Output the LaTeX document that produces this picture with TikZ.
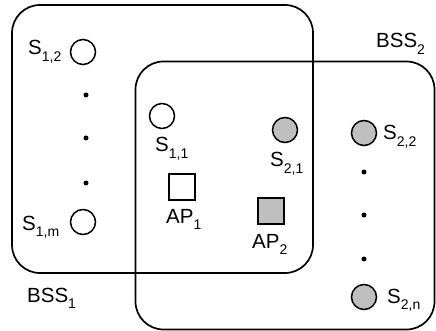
\documentclass[tikz,border=0pt]{standalone}
\usepackage{fontspec}
\setmainfont{Liberation Sans}
\newcommand{\mysub}[1]{\raisebox{-0.33em}{\fontsize{14}{14}\selectfont #1}}
\begin{document}
\begin{tikzpicture}[x=1pt,y=-1pt,
  bssbox/.style={draw,line width=1.7pt,rounded corners=28pt,inner sep=0pt},
  sta/.style={circle,draw,line width=1.5pt,minimum size=25pt,inner sep=0pt},
  apbox/.style={rectangle,draw,line width=1.5pt,minimum size=26pt,inner sep=0pt},
  lbl/.style={anchor=base west,inner sep=0pt,font=\fontsize{20.5}{20.5}\selectfont},
  dotn/.style={circle,fill,minimum size=5pt,inner sep=0pt},
  grayfill/.style={fill=black!25}]
\useasboundingbox (0,0) rectangle (436,331);
% BSS boxes
\node[bssbox,minimum width=301pt,minimum height=268pt] (bss1) at (162.5,139) {};
\node[bssbox,minimum width=299pt,minimum height=268pt] (bss2) at (285,195.5) {};
% stations of BSS1
\node[sta] (s12) at (83,52) {};
\node[dotn] (d1) at (86,95) {};
\node[dotn] (d2) at (86,138) {};
\node[dotn] (d3) at (86,183) {};
\node[sta] (s1m) at (83,222) {};
\node[sta] (s11) at (162,116) {};
\node[apbox] (ap1) at (182,187) {};
% stations of BSS2
\node[sta,grayfill] (s21) at (285,130) {};
\node[apbox,grayfill] (ap2) at (271,211) {};
\node[sta,grayfill] (s22) at (364,133) {};
\node[dotn] (d4) at (364,172) {};
\node[dotn] (d5) at (364,215) {};
\node[dotn] (d6) at (364,259) {};
\node[sta,grayfill] (s2n) at (364,297) {};
% labels
\node[lbl] (l12) at (28,55) {S\mysub{1,2}};
\node[lbl] (l1m) at (22,230) {S\mysub{1,m}};
\node[lbl] (l11) at (155,152) {S\mysub{1,1}};
\node[lbl] (la1) at (166,223) {AP\mysub{1}};
\node[lbl] (l21) at (270,167) {S\mysub{2,1}};
\node[lbl] (la2) at (252,248) {AP\mysub{2}};
\node[lbl] (l22) at (383,140) {S\mysub{2,2}};
\node[lbl] (l2n) at (387,303) {S\mysub{2,n}};
\node[lbl] (lb1) at (27,302) {BSS\mysub{1}};
\node[lbl] (lb2) at (376,48) {BSS\mysub{2}};
\end{tikzpicture}
\end{document}
